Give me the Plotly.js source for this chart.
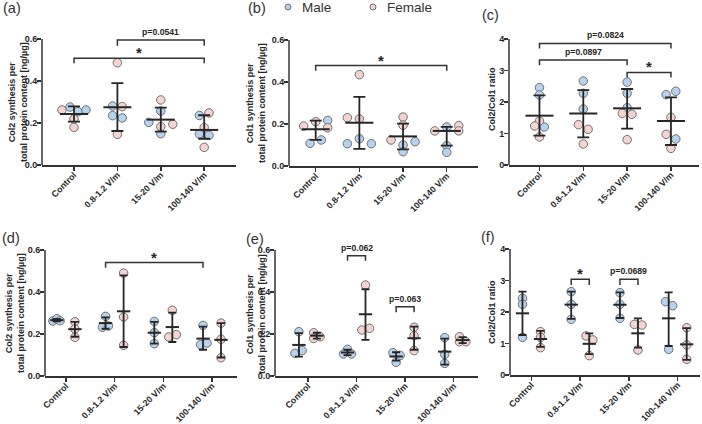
<!DOCTYPE html>
<html><head><meta charset="utf-8">
<script src="https://cdn.plot.ly/plotly-3.0.1.min.js"></script>
<style>html,body{margin:0;padding:0;background:#fff}</style>
</head><body><div id="chart" style="width:702px;height:424px"></div>
<script>
// ---------------- DATA ----------------
const categories = ["Control", "0.8-1.2 V/m", "15-20 V/m", "100-140 V/m"];
const sexes = ["Male", "Female"];

// (a) Col2 synthesis, pooled groups (3 male + 3 female per group)
const aMale   = [[0.276, 0.254, 0.262], [0.281, 0.235, 0.224], [0.257, 0.203, 0.149], [0.236, 0.148, 0.141]];
const aFemale = [[0.262, 0.219, 0.179], [0.487, 0.278, 0.146], [0.310, 0.183, 0.194], [0.248, 0.178, 0.084]];
const aMean = [0.243, 0.275, 0.216, 0.167];
const aHi   = [0.279, 0.390, 0.273, 0.237];
const aLo   = [0.207, 0.162, 0.159, 0.125];

// (b) Col1 synthesis, pooled
const bMale   = [[0.217, 0.108, 0.124], [0.130, 0.106, 0.106], [0.100, 0.116, 0.068], [0.186, 0.097, 0.065]];
const bFemale = [[0.190, 0.211, 0.182], [0.435, 0.230, 0.224], [0.233, 0.194, 0.124], [0.192, 0.167, 0.167]];
const bMean = [0.175, 0.206, 0.141, 0.167];
const bHi   = [0.216, 0.329, 0.202, 0.186];
const bLo   = [0.124, 0.082, 0.079, 0.097];

// (c) Col2/Col1 ratio, pooled
const cMale   = [[2.455, 2.222, 1.206], [2.667, 2.275, 1.778], [2.630, 2.275, 1.820], [2.233, 2.339, 0.825]];
const cFemale = [[1.397, 1.238, 0.889], [1.280, 1.132, 0.667], [1.640, 1.610, 0.804], [1.513, 0.974, 0.529]];
const cMean = [1.566, 1.635, 1.799, 1.397];
const cHi   = [2.210, 2.380, 2.413, 2.148];
const cLo   = [0.931, 0.878, 1.153, 0.635];

// (d) Col2 synthesis by sex
const dMale   = [[0.262, 0.273, 0.263], [0.284, 0.232, 0.238], [0.260, 0.206, 0.154], [0.241, 0.149, 0.157]];
const dFemale = [[0.258, 0.224, 0.184], [0.490, 0.281, 0.146], [0.313, 0.186, 0.197], [0.252, 0.175, 0.087]];
const dMaleMean = [0.266, 0.252, 0.206, 0.178];
const dMaleHi   = [0.272, 0.279, 0.258, 0.235];
const dMaleLo   = [0.260, 0.225, 0.154, 0.125];
const dFemMean  = [0.223, 0.308, 0.233, 0.172];
const dFemHi    = [0.258, 0.479, 0.302, 0.252];
const dFemLo    = [0.187, 0.138, 0.162, 0.088];

// (e) Col1 synthesis by sex
const eMale   = [[0.211, 0.108, 0.121], [0.127, 0.105, 0.105], [0.111, 0.098, 0.065], [0.183, 0.103, 0.060]];
const eFemale = [[0.206, 0.179, 0.187], [0.433, 0.219, 0.227], [0.232, 0.192, 0.121], [0.187, 0.163, 0.163]];
const eMaleMean = [0.148, 0.112, 0.093, 0.116];
const eMaleHi   = [0.204, 0.125, 0.113, 0.178];
const eMaleLo   = [0.092, 0.099, 0.073, 0.054];
const eFemMean  = [0.192, 0.294, 0.180, 0.171];
const eFemHi    = [0.206, 0.413, 0.235, 0.185];
const eFemLo    = [0.178, 0.172, 0.125, 0.157];

// (f) Col2/Col1 ratio by sex
const fMale   = [[2.434, 2.243, 1.196], [2.646, 2.243, 1.767], [2.614, 2.243, 1.799], [2.328, 2.201, 0.815]];
const fFemale = [[1.376, 1.196, 0.868], [1.241, 1.114, 0.615], [1.608, 1.587, 0.794], [1.503, 0.955, 0.499]];
const fMaleMean = [1.958, 2.233, 2.230, 1.799];
const fMaleHi   = [2.646, 2.650, 2.620, 2.624];
const fMaleLo   = [1.270, 1.780, 1.810, 0.921];
const fFemMean  = [1.143, 0.990, 1.323, 0.974];
const fFemHi    = [1.400, 1.321, 1.800, 1.490];
const fFemLo    = [0.890, 0.660, 0.866, 0.480];

// significance brackets: [panel, fromX, toX, top, end, label]
const brackets = [
  ["a", 0, 3, 0.508, 0.484, "*"],
  ["a", 1, 3, 0.595, 0.568, "p=0.0541"],
  ["b", 0, 3, 0.478, 0.454, "*"],
  ["c", 0, 3, 3.86, 3.70, "p=0.0824"],
  ["c", 0, 2, 3.33, 3.17, "p=0.0897"],
  ["c", 2, 3, 2.94, 2.78, "*"],
  ["d", "1M", "3M", 0.540, 0.515, "*"],
  ["e", "1M", "1F", 0.573, 0.549, "p=0.062"],
  ["e", "2M", "2F", 0.330, 0.303, "p=0.063"],
  ["f", "1M", "1F", 3.04, 2.857, "*"],
  ["f", "2M", "2F", 3.04, 2.86, "p=0.0689"]
];

// ---------------- LAYOUT (positions / styles) ----------------
// swarm dodge slots (in marker steps) for the points, same shape as data
const aMaleDodge = [[-0.5, 0.5, 1.5], [-0.6, -0.6, 0.6], [0, -1.5, 0], [-0.6, -0.6, 0.6]];
const aFemDodge  = [[-1.5, 0, 0], [0, 0.6, 0], [0, 0, 1.5], [0.6, 0, 0]];
const bMaleDodge = [[1.5, -0.7, 0.7], [0, -1.5, 1.5], [0, 1.5, 0], [0, 0, 0]];
const bFemDodge  = [[-1.5, 0, 1.5], [0, -1.5, 0], [0, 0, -1.5], [1.5, -1.5, 1.5]];
const cMaleDodge = [[0, 0, 0.6], [0, 0, 0], [0, 0, 0], [-0.6, 0.6, 0.6]];
const cFemDodge  = [[0, -0.6, 0], [-0.6, 0.6, 0], [-0.6, 0.6, 0], [0, -0.6, 0]];
const dMaleDodge = [[-0.5, 0, 0.4], [0, -0.4, 0.35], [0, 0, 0], [0, -0.3, 0.5]];
const dFemDodge  = [[0, 0, 0], [0, 0, 0], [0, -0.45, 0.5], [0, 0, 0]];
const eMaleDodge = [[0, -0.5, 0.4], [0, -0.5, 0.5], [-0.4, 0.5, 0], [0, 0, 0]];
const eFemDodge  = [[-0.4, -0.4, 0.4], [0, -0.45, 0.5], [0, 0, 0], [-0.4, -0.4, 0.4]];
const fMaleDodge = [[0, 0, 0], [0, 0, 0], [0, 0, 0], [-0.4, 0.5, 0]];
const fFemDodge  = [[0, 0, 0], [-0.4, 0.45, 0], [-0.45, 0.5, 0], [0, 0, 0]];

const W = 702, H = 424;
const BLUE = "#b5d2ee", PINK = "#f4d3d1", EDGE = "#707070", INK = "#262626";
const FONT = "Liberation Sans, Arial, sans-serif";
const SUB = 0.185; // male/female offset in grouped panels

const panels = {
  a: {n: 1, xpx: [42, 236], xr: [-0.737, 3.733], ybot: 165, k: 210, yr: [0, 0.72], tv: [0, 0.2, 0.4, 0.6], tt: ["0.0", "0.2", "0.4", "0.6"], ppu: 43.4, grouped: false,
      male: aMale, fem: aFemale, md: aMaleDodge, fd: aFemDodge, mean: aMean, hi: aHi, lo: aLo,
      title: "Col2 synthesis per<br>total protein content [ng/µg]", tx: 18, ty: 102, lab: "(a)", lx: 1, ly: 8},
  b: {n: 2, xpx: [289, 478], xr: [-0.611, 3.716], ybot: 166, k: 210, yr: [0, 0.72], tv: [0, 0.2, 0.4, 0.6], tt: ["0.0", "0.2", "0.4", "0.6"], ppu: 43.67, grouped: false,
      male: bMale, fem: bFemale, md: bMaleDodge, fd: bFemDodge, mean: bMean, hi: bHi, lo: bLo,
      title: "Col1 synthesis per<br>total protein content [ng/µg]", tx: 256, ty: 103, lab: "(b)", lx: 246, ly: 8},
  c: {n: 3, xpx: [509, 699], xr: [-0.695, 3.64], ybot: 165, k: 31.5, yr: [0, 4.5], tv: [0, 1, 2, 3, 4], tt: ["0", "1", "2", "3", "4"], ppu: 43.57, grouped: false,
      male: cMale, fem: cFemale, md: cMaleDodge, fd: cFemDodge, mean: cMean, hi: cHi, lo: cLo,
      title: "Col2/Col1 ratio", tx: 492, ty: 99, lab: "(c)", lx: 480, ly: 15},
  d: {n: 4, xpx: [45, 237], xr: [-0.429, 3.513], ybot: 376, k: 210, yr: [0, 0.64], tv: [0, 0.2, 0.4, 0.6], tt: ["0.0", "0.2", "0.4", "0.6"], ppu: 48.7, grouped: true,
      male: dMale, fem: dFemale, md: dMaleDodge, fd: dFemDodge,
      mMean: dMaleMean, mHi: dMaleHi, mLo: dMaleLo, fMean: dFemMean, fHi: dFemHi, fLo: dFemLo,
      title: "Col2 synthesis per<br>total protein content [ng/µg]", tx: 15, ty: 313, lab: "(d)", lx: 0, ly: 238},
  e: {n: 5, xpx: [275, 478], xr: [-0.677, 3.5], ybot: 376, k: 210, yr: [0, 0.66], tv: [0, 0.2, 0.4, 0.6], tt: ["0.0", "0.2", "0.4", "0.6"], ppu: 48.6, grouped: true,
      male: eMale, fem: eFemale, md: eMaleDodge, fd: eFemDodge,
      mMean: eMaleMean, mHi: eMaleHi, mLo: eMaleLo, fMean: eFemMean, fHi: eFemHi, fLo: eFemLo,
      title: "Col1 synthesis per<br>total protein content [ng/µg]", tx: 256, ty: 314, lab: "(e)", lx: 244, ly: 239},
  f: {n: 6, xpx: [510, 700], xr: [-0.441, 3.458], ybot: 375, k: 31.5, yr: [0, 4.3], tv: [0, 1, 2, 3, 4], tt: ["0", "1", "2", "3", "4"], ppu: 48.73, grouped: true,
      male: fMale, fem: fFemale, md: fMaleDodge, fd: fFemDodge,
      mMean: fMaleMean, mHi: fMaleHi, mLo: fMaleLo, fMean: fFemMean, fHi: fFemHi, fLo: fFemLo,
      title: "Col2/Col1 ratio", tx: 492, ty: 312, lab: "(f)", lx: 479, ly: 237}
};

const traces = [];
const layout = {
  width: W, height: H, margin: {l: 0, r: 0, t: 0, b: 0},
  paper_bgcolor: "#fff", plot_bgcolor: "rgba(0,0,0,0)", showlegend: false,
  font: {family: FONT, color: INK},
  shapes: [], annotations: []
};

function ax(p) { const s = p.n === 1 ? "" : String(p.n); return {x: "x" + s, y: "y" + s, xk: "xaxis" + s, yk: "yaxis" + s}; }

function pointTrace(p, ids, vals, dodge, offset, color, name) {
  const xs = [], ys = [];
  vals.forEach((arr, i) => arr.forEach((v, j) => {
    xs.push(i + offset + dodge[i][j] * 8 / p.ppu);
    ys.push(v);
  }));
  return {type: "scatter", mode: "markers", x: xs, y: ys, xaxis: ids.x, yaxis: ids.y, name: name,
    cliponaxis: false, hoverinfo: "skip",
    marker: {symbol: "circle", size: 8.5, color: color, line: {color: EDGE, width: 1}}};
}

function meanTrace(p, ids, mean, hi, lo, offset, big) {
  const xs = mean.map((_, i) => i + offset);
  return {type: "scatter", mode: "markers", x: xs, y: mean, xaxis: ids.x, yaxis: ids.y,
    cliponaxis: false, hoverinfo: "skip",
    marker: {symbol: "line-ew", size: big ? 20 : 9.5, color: INK, line: {color: INK, width: 2}},
    error_y: {type: "data", symmetric: false, array: hi.map((h, i) => h - mean[i]),
      arrayminus: lo.map((l, i) => mean[i] - l), width: big ? 6 : 4, thickness: 1.8, color: INK}};
}

function xpos(v) {
  if (typeof v === "number") return v;
  const i = parseInt(v, 10);
  return v.endsWith("M") ? i - SUB : i + SUB;
}

Object.keys(panels).forEach(key => {
  const p = panels[key];
  const ids = ax(p);
  const top = p.ybot - p.yr[1] * p.k;
  layout[ids.xk] = {
    domain: [p.xpx[0] / W, p.xpx[1] / W], range: p.xr, anchor: ids.y,
    tickmode: "array", tickvals: [0, 1, 2, 3], ticktext: categories, tickangle: -45,
    ticks: "outside", ticklen: 4, tickwidth: 1.5, tickcolor: "#333",
    showline: true, linecolor: "#333", linewidth: 1.5, showgrid: false, zeroline: false,
    ticklabelstandoff: -4,
    tickfont: {family: FONT, size: 8.8, color: INK, weight: "bold"}, fixedrange: true
  };
  layout[ids.yk] = {
    domain: [1 - p.ybot / H, 1 - top / H], range: p.yr, anchor: ids.x,
    tickmode: "array", tickvals: p.tv, ticktext: p.tt,
    ticks: "outside", ticklen: 4, tickwidth: 1.5, tickcolor: "#333",
    showline: false, showgrid: false, zeroline: false,
    ticklabelstandoff: -2,
    tickfont: {family: FONT, size: 9, color: INK, weight: "bold"}, fixedrange: true
  };
  // y axis line ending at the top tick
  layout.shapes.push({type: "line", xref: ids.x + " domain", yref: ids.y, x0: 0, x1: 0,
    y0: p.yr[0], y1: p.tv[p.tv.length - 1], line: {color: "#333", width: 1.5}});

  if (!p.grouped) {
    traces.push(pointTrace(p, ids, p.male, p.md, 0, BLUE, "Male"));
    traces.push(pointTrace(p, ids, p.fem, p.fd, 0, PINK, "Female"));
    traces.push(meanTrace(p, ids, p.mean, p.hi, p.lo, 0, true));
  } else {
    traces.push(pointTrace(p, ids, p.male, p.md, -SUB, BLUE, "Male"));
    traces.push(pointTrace(p, ids, p.fem, p.fd, SUB, PINK, "Female"));
    traces.push(meanTrace(p, ids, p.mMean, p.mHi, p.mLo, -SUB, false));
    traces.push(meanTrace(p, ids, p.fMean, p.fHi, p.fLo, SUB, false));
  }

  // y axis title
  layout.annotations.push({xref: "paper", yref: "paper", x: p.tx / W, y: 1 - p.ty / H,
    text: p.title, textangle: -90, showarrow: false, xanchor: "center", yanchor: "middle",
    font: {family: FONT, size: 9, color: INK, weight: "bold"}});
  // panel label
  layout.annotations.push({xref: "paper", yref: "paper", x: p.lx / W, y: 1 - p.ly / H,
    text: p.lab, showarrow: false, xanchor: "left", yanchor: "middle",
    font: {family: FONT, size: 14.5, color: "#333"}});
});

brackets.forEach(b => {
  const p = panels[b[0]];
  const ids = ax(p);
  const x1 = xpos(b[1]), x2 = xpos(b[2]);
  traces.push({type: "scatter", mode: "lines", x: [x1, x1, x2, x2], y: [b[4], b[3], b[3], b[4]],
    xaxis: ids.x, yaxis: ids.y, hoverinfo: "skip", cliponaxis: false,
    line: {color: "#333", width: 1.5}});
  const star = b[5] === "*";
  layout.annotations.push({xref: ids.x, yref: ids.y, x: (x1 + x2) / 2, y: b[3],
    text: b[5], showarrow: false, xanchor: "center", yanchor: "bottom", yshift: star ? -5 : 1,
    font: {family: FONT, size: star ? 15 : 8.7, color: INK, weight: "bold"}});
});

// legend (manual)
const legendItems = [[288, BLUE, sexes[0]], [373, PINK, sexes[1]]];
legendItems.forEach(it => {
  layout.shapes.push({type: "circle", xref: "paper", yref: "paper",
    x0: (it[0] - 3) / W, x1: (it[0] + 3) / W, y0: 1 - 10 / H, y1: 1 - 4 / H,
    fillcolor: it[1], line: {color: EDGE, width: 1}});
  layout.annotations.push({xref: "paper", yref: "paper", x: (it[0] + 12) / W, y: 1 - 7.5 / H,
    text: it[2], showarrow: false, xanchor: "left", yanchor: "middle",
    font: {family: FONT, size: 13.5, color: "#333"}});
});

Plotly.newPlot("chart", traces, layout, {staticPlot: true, displayModeBar: false});
</script>
</body></html>
